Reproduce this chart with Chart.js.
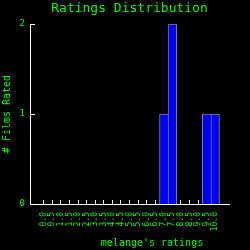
<!DOCTYPE html>
<html>
<head>
<meta charset="utf-8">
<script src="https://cdn.jsdelivr.net/npm/chart.js@4"></script>
<style>
  html, body { margin: 0; padding: 0; background: #000; }
</style>
</head>
<body>
<canvas id="grafico" width="250" height="250"></canvas>
<script>
// ---- DADOS ----
var notas  = ['0.0','0.5','1.0','1.5','2.0','2.5','3.0','3.5','4.0','4.5','5.0',
              '5.5','6.0','6.5','7.0','7.5','8.0','8.5','9.0','9.5','10.0'];
var filmes = [0,0,0,0,0,0,0,0,0,0,0,0,0,0,1,2,0,0,0,1,1];
var yTicks = [0, 1, 2];

var VERDE = '#00ff00';
var MONO  = "'DejaVu Sans Mono', monospace";

// ---- TICKS PARA DENTRO (desenhados atras das barras) ----
var tickMarks = {
  id: 'tickMarks',
  beforeDatasetsDraw: function(chart) {
    var ctx = chart.ctx, sx = chart.scales.x, sy = chart.scales.y, a = chart.chartArea;
    ctx.save();
    ctx.strokeStyle = '#ffffff';
    ctx.lineWidth = 1;
    ctx.beginPath();
    notas.forEach(function(n, i) {
      var px = Math.floor(sx.getPixelForValue(i)) + 0.5;
      ctx.moveTo(px, a.bottom);
      ctx.lineTo(px, a.bottom - 4);
    });
    yTicks.forEach(function(v) {
      if (!v) return;
      var py = Math.floor(sy.getPixelForValue(v)) + 0.5;
      ctx.moveTo(a.left, py);
      ctx.lineTo(a.left + 5, py);
    });
    ctx.stroke();
    ctx.restore();
  }
};

// ---- TITULO DO EIXO X (deslocado p/ direita como no original) ----
var tituloX = {
  id: 'tituloX',
  afterDraw: function(chart) {
    var ctx = chart.ctx, a = chart.chartArea;
    ctx.save();
    ctx.fillStyle = VERDE;
    ctx.font = '10px ' + MONO;
    ctx.textAlign = 'center';
    ctx.textBaseline = 'middle';
    ctx.fillText("melange's ratings", (a.left + a.right) / 2 + 22.5, chart.height - 7);
    ctx.restore();
  }
};

new Chart(document.getElementById('grafico'), {
  type: 'bar',
  data: {
    datasets: [{
      data: filmes.map(function(v, i) { return { x: i, y: v }; }),
      backgroundColor: '#0000ff',
      borderColor: '#808080',
      borderWidth: function(c) {
        var prox = filmes[c.dataIndex + 1];
        return { top: 1, left: 1, bottom: 0, right: prox > 0 ? 0 : 1 };
      },
      barPercentage: 1,
      categoryPercentage: 1
    }]
  },
  options: {
    responsive: false,
    animation: false,
    layout: { padding: 0 },
    plugins: {
      legend: { display: false },
      tooltip: { enabled: false },
      title: {
        display: true,
        fullSize: false,
        text: 'Ratings Distribution',
        color: VERDE,
        font: { family: MONO, size: 13, weight: 'normal' },
        padding: { top: 1, bottom: 7.4 }
      }
    },
    scales: {
      x: {
        type: 'linear',
        min: -0.5 - 5 / 9,
        max: notas.length - 0.5 + 5 / 9,
        grid: { display: false, drawTicks: false },
        border: { display: true, color: '#ffffff', width: 1 },
        afterBuildTicks: function(s) {
          s.ticks = notas.map(function(n, i) { return { value: i }; });
        },
        afterFit: function(s) { s.height = 46; },
        ticks: {
          autoSkip: false,
          minRotation: 90,
          maxRotation: 90,
          padding: 8,
          color: VERDE,
          font: { family: MONO, size: 8 },
          callback: function(v) { return notas[v]; }
        }
      },
      y: {
        min: 0,
        max: 2,
        grid: { display: false, drawTicks: false },
        border: { display: true, color: '#ffffff', width: 1 },
        afterFit: function(s) { s.width = 30; },
        ticks: {
          stepSize: 1,
          padding: 5,
          color: VERDE,
          font: { family: MONO, size: 9 }
        },
        title: {
          display: true,
          text: '# Films Rated',
          color: VERDE,
          font: { family: MONO, size: 10 },
          padding: { top: 1, bottom: 0 }
        }
      },
      // margem direita vazia
      yDir: {
        position: 'right',
        grid: { display: false, drawTicks: false },
        border: { display: false },
        ticks: { display: false },
        afterFit: function(s) { s.width = 21; }
      }
    }
  },
  plugins: [tickMarks, tituloX]
});
</script>
</body>
</html>
